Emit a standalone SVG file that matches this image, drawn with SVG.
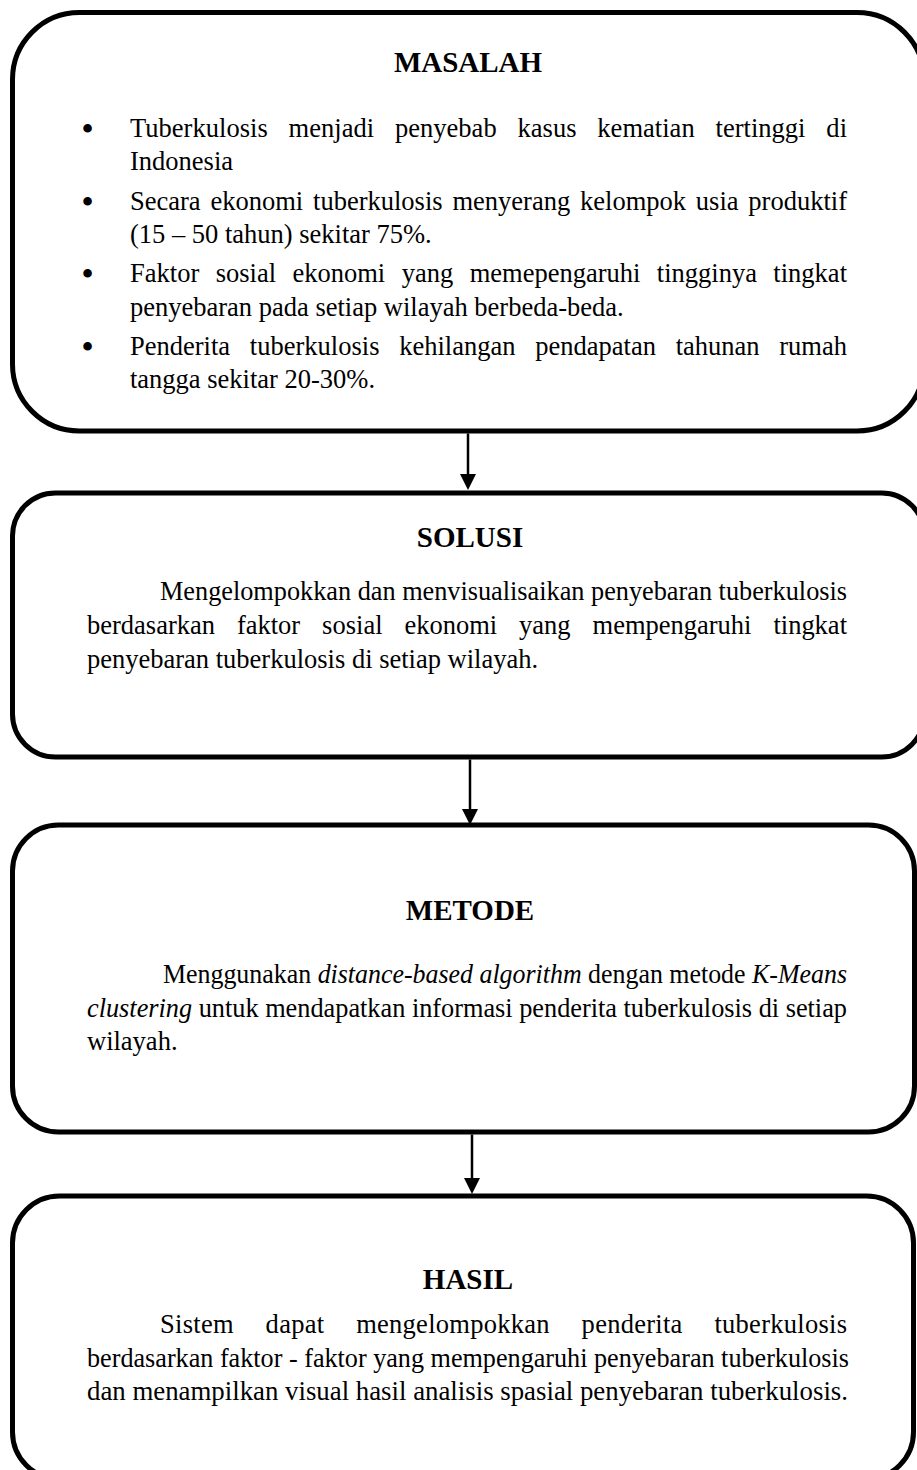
<svg xmlns="http://www.w3.org/2000/svg" width="917" height="1470" viewBox="0 0 917 1470">
<style>
.box{fill:none;stroke:#000;stroke-width:5}
.t{font-family:"Liberation Serif","Times New Roman",serif;font-size:26.5px;fill:#000}
.h{font-family:"Liberation Serif","Times New Roman",serif;font-size:29px;font-weight:bold;fill:#000;text-anchor:middle}
.b{font-family:"Liberation Serif","Times New Roman",serif;font-size:36px;fill:#000;text-anchor:middle}
.i{font-style:italic}
.conn{stroke:#000;stroke-width:2.5;fill:none}
</style>
<defs>
<marker id="ah" viewBox="0 0 16 16" refX="0" refY="8" markerWidth="16" markerHeight="16" markerUnits="userSpaceOnUse" orient="auto">
<path d="M0,0 L16,8 L0,16 z" fill="#000"/>
</marker>
</defs>
<rect width="917" height="1470" fill="#fff"/>
<g id="masalah">
<rect class="box" x="12.5" y="12.5" width="911.5" height="418.5" rx="67" ry="67"/>
<text class="h" x="468" y="72">MASALAH</text>
<text class="b" x="87.5" y="141">•</text>
<text class="t" x="130" y="137" word-spacing="14.2" textLength="717" lengthAdjust="spacing">Tuberkulosis menjadi penyebab kasus kematian tertinggi di</text>
<text class="t" x="130" y="170">Indonesia</text>
<text class="b" x="87.5" y="213.5">•</text>
<text class="t" x="130" y="209.5" word-spacing="3.2" textLength="717" lengthAdjust="spacing">Secara ekonomi tuberkulosis menyerang kelompok usia produktif</text>
<text class="t" x="130" y="243">(15 – 50 tahun) sekitar 75%.</text>
<text class="b" x="87.5" y="286">•</text>
<text class="t" x="130" y="282" word-spacing="9.8" textLength="717" lengthAdjust="spacing">Faktor sosial ekonomi yang memepengaruhi tingginya tingkat</text>
<text class="t" x="130" y="315.5">penyebaran pada setiap wilayah berbeda-beda.</text>
<text class="b" x="87.5" y="359">•</text>
<text class="t" x="130" y="355" word-spacing="13.1" textLength="717" lengthAdjust="spacing">Penderita tuberkulosis kehilangan pendapatan tahunan rumah</text>
<text class="t" x="130" y="388">tangga sekitar 20-30%.</text>
</g>
<g id="solusi">
<rect class="box" x="12.5" y="493" width="912" height="264" rx="43" ry="43"/>
<text class="h" x="470" y="547">SOLUSI</text>
<text class="t" x="160" y="600" textLength="687" lengthAdjust="spacingAndGlyphs">Mengelompokkan dan menvisualisaikan penyebaran tuberkulosis</text>
<text class="t" x="87" y="634" word-spacing="15.3" textLength="760" lengthAdjust="spacing">berdasarkan faktor sosial ekonomi yang mempengaruhi tingkat</text>
<text class="t" x="87" y="668">penyebaran tuberkulosis di setiap wilayah.</text>
</g>
<g id="metode">
<rect class="box" x="12.5" y="825" width="902" height="307" rx="46" ry="46"/>
<text class="h" x="470" y="920">METODE</text>
<text class="t" x="163" y="983" textLength="684" lengthAdjust="spacingAndGlyphs">Menggunakan <tspan class="i">distance-based algorithm</tspan> dengan metode <tspan class="i">K-Means</tspan></text>
<text class="t" x="87" y="1017" textLength="760" lengthAdjust="spacingAndGlyphs"><tspan class="i">clustering</tspan> untuk mendapatkan informasi penderita tuberkulosis di setiap</text>
<text class="t" x="87" y="1050">wilayah.</text>
</g>
<g id="hasil">
<rect class="box" x="12.5" y="1196" width="901" height="283" rx="47" ry="47"/>
<text class="h" x="468" y="1289">HASIL</text>
<text class="t" x="160" y="1333" word-spacing="24.9" textLength="687" lengthAdjust="spacing">Sistem dapat mengelompokkan penderita tuberkulosis</text>
<text class="t" x="87" y="1367" textLength="762" lengthAdjust="spacingAndGlyphs">berdasarkan faktor - faktor yang mempengaruhi penyebaran tuberkulosis</text>
<text class="t" x="87" y="1400" textLength="761" lengthAdjust="spacingAndGlyphs">dan menampilkan visual hasil analisis spasial penyebaran tuberkulosis.</text>
</g>
<g id="connectors">
<path class="conn" d="M468,433.5 V474" marker-end="url(#ah)"/>
<path class="conn" d="M470,759.5 V809" marker-end="url(#ah)"/>
<path class="conn" d="M472,1134.5 V1178" marker-end="url(#ah)"/>
</g>
</svg>
